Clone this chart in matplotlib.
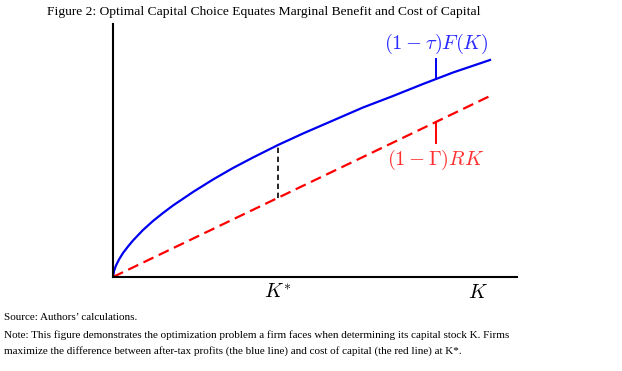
import matplotlib
matplotlib.use("Agg")
import matplotlib.pyplot as plt

# Data (abstract units)
K = [0, 0.1, 0.3, 0.6, 1.0, 1.5, 2.0, 3.0, 4.0, 5.0, 6.0, 8.0, 10.0, 12.0, 14.0, 16.5,
     19.0, 22.0, 25.0, 28.0, 31.0, 34.0, 37.7]
benefit = [0, 0.6, 1.15, 1.75, 2.4, 3.05, 3.65, 4.7, 5.6, 6.4, 7.15, 8.5, 9.75, 10.9, 11.95, 13.2,
           14.35, 15.65, 16.95, 18.1, 19.3, 20.45, 21.7]
K_cost = [0, 37.7]
cost = [0, 18.1]
K_star = 16.5
benefit_star = 13.2
cost_star = 7.92
K_mark = 32.3
benefit_mark = 19.8
cost_mark = 15.5

plt.rcParams['mathtext.fontset'] = 'cm'
serif = ['Liberation Serif', 'DejaVu Serif']

fig = plt.figure(figsize=(6.22, 3.71), dpi=100)
ax = fig.add_axes([113/622, 1-277/371, 404/622, 253/371])
ax.set_xlim(0, 40.4)
ax.set_ylim(0, 25.3)

ax.plot(K, benefit, color='#0000f0', lw=1.6, solid_joinstyle='round')
ax.plot(K_cost, cost, color='#ff0000', lw=1.6, dashes=(5, 2.6))
ax.plot([K_star, K_star], [cost_star, benefit_star], color='black', lw=1.2, dashes=(3.2, 2.2))
ax.plot([K_mark, K_mark], [benefit_mark, benefit_mark + 2.0], color='#0000f0', lw=1.4)
ax.plot([K_mark, K_mark], [cost_mark, cost_mark - 2.1], color='#ff0000', lw=1.4)

ax.text(K_mark, 23.3, r'$(1-\tau)F(K)$', color='#2a2aff', fontsize=14.7, ha='center', va='center')
ax.text(K_mark, 11.7, r'$(1-\Gamma)RK$', color='#ff3030', fontsize=14.7, ha='center', va='center')
ax.text(K_star, -1.5, r'$K^{*}$', fontsize=14.5, ha='center', va='center', clip_on=False)
ax.text(36.5, -1.5, r'$K$', fontsize=14.5, ha='center', va='center', clip_on=False)

for s in ['top', 'right']:
    ax.spines[s].set_visible(False)
for s in ['left', 'bottom']:
    ax.spines[s].set_linewidth(1.5)
ax.set_xticks([])
ax.set_yticks([])

fig.text(264/622, 1-12/371, 'Figure 2: Optimal Capital Choice Equates Marginal Benefit and Cost of Capital',
         ha='center', va='center', fontsize=9.7, family=serif)
fig.text(4/622, 1-318/371, 'Source: Authors\u2019 calculations.', ha='left', va='center', fontsize=8, family=serif)
fig.text(4/622, 1-335/371, 'Note: This figure demonstrates the optimization problem a firm faces when determining its capital stock K. Firms',
         ha='left', va='center', fontsize=8, family=serif)
fig.text(4/622, 1-351/371, 'maximize the difference between after-tax profits (the blue line) and cost of capital (the red line) at K*.',
         ha='left', va='center', fontsize=8, family=serif)

fig.savefig('out.png', dpi=100)
